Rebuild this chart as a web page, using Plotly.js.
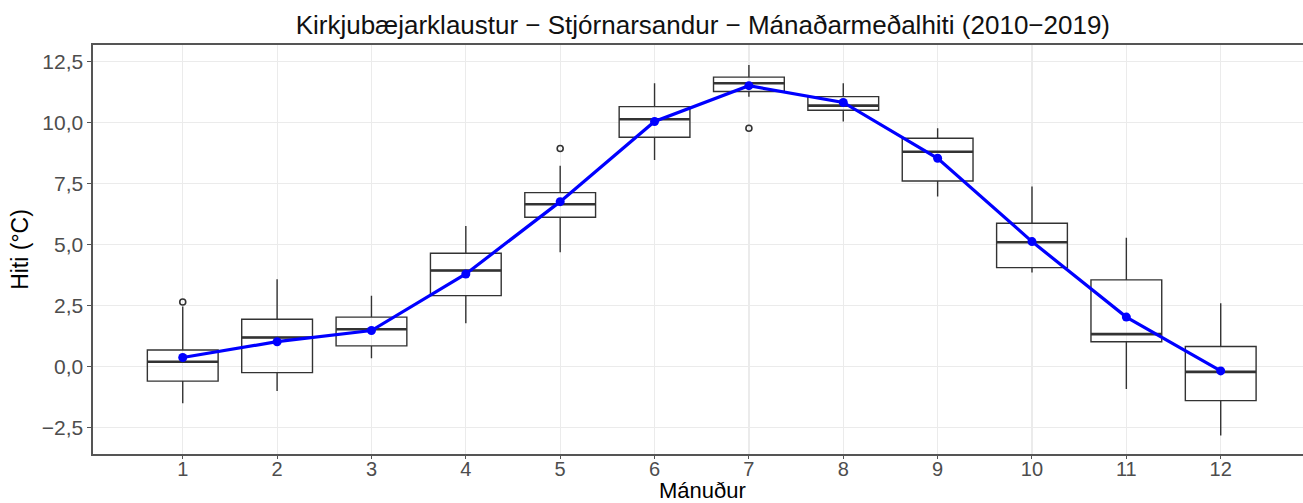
<!DOCTYPE html>
<html>
<head>
<meta charset="utf-8">
<script src="https://cdn.plot.ly/plotly-3.0.1.min.js"></script>
<style>html,body{margin:0;padding:0;background:#fff;}#chart{width:1303px;height:503px;}</style>
</head>
<body>
<div id="chart"></div>
<script>
// Data
const months = [1, 2, 3, 4, 5, 6, 7, 8, 9, 10, 11, 12];
const lowerWhisker = [-1.52, -1.01, 0.33, 1.77, 4.68, 8.47, 11.07, 10.05, 6.97, 3.85, -0.93, -2.84];
const q1Values     = [-0.61, -0.26, 0.84, 2.90, 6.12, 9.40, 11.28, 10.51, 7.61, 4.05, 1.01, -1.41];
const medianValues = [0.19, 1.18, 1.52, 3.93, 6.65, 10.14, 11.62, 10.70, 8.81, 5.09, 1.32, -0.23];
const q3Values     = [0.67, 1.93, 2.02, 4.64, 7.13, 10.66, 11.87, 11.07, 9.36, 5.87, 3.55, 0.81];
const upperWhisker = [2.45, 3.57, 2.90, 5.76, 8.23, 11.62, 12.37, 11.62, 9.77, 7.38, 5.28, 2.59];
const meanValues   = [0.36, 1.01, 1.47, 3.79, 6.76, 10.05, 11.52, 10.83, 8.54, 5.12, 2.02, -0.19];
const outlierMonths = [1, 5, 7];
const outlierValues = [2.64, 8.94, 9.77];
const yTickVals = [-2.5, 0, 2.5, 5, 7.5, 10, 12.5];
const yTickText = ['\u22122,5', '0,0', '2,5', '5,0', '7,5', '10,0', '12,5'];
const xTitle = 'Mánuður';

const boxWidth = 0.75;
const dark = '#333333';

// median segments (thicker, like ggplot)
const medX = [], medY = [];
months.forEach((m, i) => {
  medX.push(m - boxWidth / 2, m + boxWidth / 2, null);
  medY.push(medianValues[i], medianValues[i], null);
});

const traces = [
  {
    type: 'box',
    x: months,
    q1: q1Values,
    median: medianValues,
    q3: q3Values,
    lowerfence: lowerWhisker,
    upperfence: upperWhisker,
    width: boxWidth,
    whiskerwidth: 0,
    fillcolor: 'rgba(255,255,255,0)',
    line: {color: dark, width: 1.4},
    boxpoints: false,
    hoverinfo: 'skip',
    showlegend: false
  },
  {
    type: 'scatter', mode: 'lines',
    x: medX, y: medY,
    line: {color: dark, width: 2.6},
    hoverinfo: 'skip', showlegend: false
  },
  {
    type: 'scatter', mode: 'markers',
    x: outlierMonths, y: outlierValues,
    marker: {symbol: 'circle-open', size: 6, color: dark, line: {width: 1.6, color: dark}},
    showlegend: false
  },
  {
    type: 'scatter', mode: 'lines+markers',
    x: months, y: meanValues,
    line: {color: '#0000FF', width: 3.2},
    marker: {color: '#0000FF', size: 9},
    showlegend: false
  }
];

const layout = {
  width: 1303, height: 503,
  margin: {l: 93, r: 0, t: 45, b: 49, pad: 0},
  paper_bgcolor: '#ffffff',
  plot_bgcolor: '#ffffff',
  font: {family: 'Liberation Sans, Arial, sans-serif', color: '#000'},
  title: {
    text: 'Kirkjubæjarklaustur \u2212 Stjórnarsandur \u2212 Mánaðarmeðalhiti (2010\u22122019)',
    font: {size: 26, color: '#111'},
    x: 0.504, xref: 'paper', xanchor: 'center',
    y: 1 - 25 / 503, yref: 'container', yanchor: 'middle'
  },
  annotations: [{
    text: xTitle,
    xref: 'paper', yref: 'paper',
    x: 0.504, y: -0.090, xanchor: 'center', yanchor: 'middle',
    showarrow: false,
    font: {size: 22, color: '#000'}
  }],
  xaxis: {
    range: [0.049, 12.872],
    tickvals: months,
    ticktext: months.map(String),
    tickfont: {size: 20, color: '#4d4d4d'},
    ticks: 'outside', ticklen: 3, tickcolor: '#555', tickwidth: 1,
    ticklabelstandoff: -7,
    showgrid: true, gridcolor: '#ebebeb', gridwidth: 1.2,
    zeroline: false,
    showline: true, linecolor: '#555', linewidth: 1.6, mirror: true,
    automargin: false
  },
  yaxis: {
    range: [-3.60, 13.19],
    tickvals: yTickVals,
    ticktext: yTickText,
    tickfont: {size: 21, color: '#4d4d4d'},
    ticks: 'outside', ticklen: 4, tickcolor: '#555', tickwidth: 1,
    showgrid: true, gridcolor: '#ebebeb', gridwidth: 1.2,
    zeroline: false,
    showline: true, linecolor: '#555', linewidth: 1.6, mirror: false,
    title: {text: 'Hiti (°C)', font: {size: 23, color: '#000'}, standoff: 6},
    automargin: false
  }
};

Plotly.newPlot('chart', traces, layout, {displayModeBar: false, staticPlot: true});
</script>
</body>
</html>
